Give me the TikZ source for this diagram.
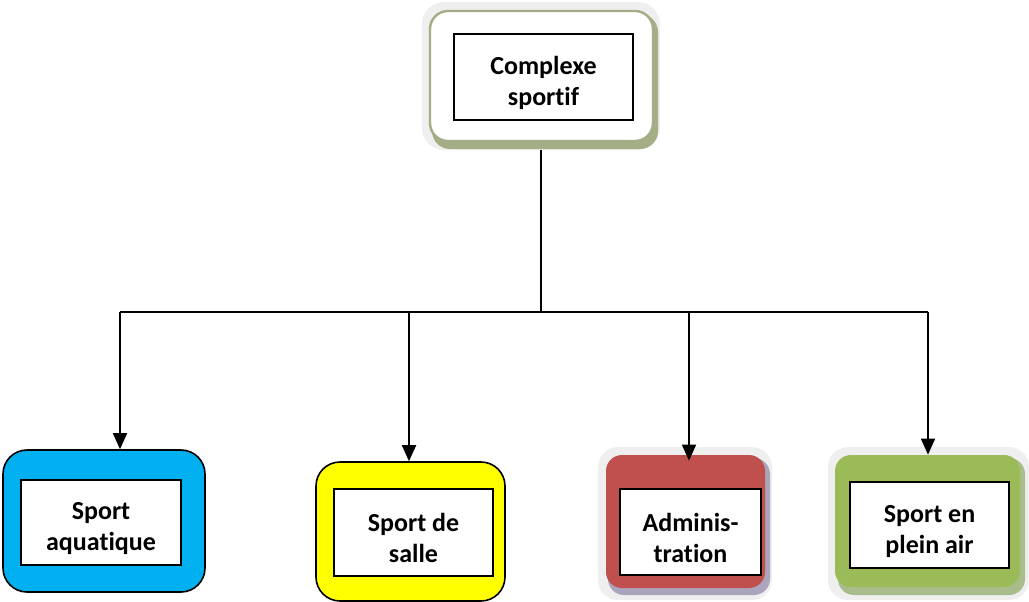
\documentclass[tikz,border=0pt]{standalone}
\usepackage{fontspec}
\setmainfont{Carlito}[Ligatures=NoCommon]
\usetikzlibrary{arrows.meta}
\definecolor{aquablue}{HTML}{00B0F0}
\definecolor{sallejaune}{HTML}{FFFF00}
\definecolor{adminrouge}{HTML}{C0504D}
\definecolor{pleinvert}{HTML}{9BBB59}
\definecolor{cadregris}{HTML}{EFEFEF}
\definecolor{ombreolive}{HTML}{A3AD86}
\definecolor{ombremauve}{HTML}{ABA4BD}
\definecolor{ombrevert}{HTML}{A9BC8C}
\newcommand{\hautligne}{\rule{0pt}{15pt}}
\tikzset{
  txtbox/.style={draw=black, line width=1pt, fill=white, align=center,
    font=\fontsize{13}{15.5}\selectfont\bfseries, inner sep=0pt},
  colbox/.style={draw=black, line width=0.8pt, rounded corners=12pt, inner sep=0pt},
  flatbox/.style={rounded corners=8pt, inner sep=0pt},
  link/.style={line width=0.9pt},
  arr/.style={link, -{Triangle[width=7pt,length=8pt]}}
}
\begin{document}
\begin{tikzpicture}[x=0.5pt,y=-0.5pt]
\useasboundingbox (0,0) rectangle (1029,601);

\node[flatbox, fill=cadregris, rounded corners=11pt, minimum width=119pt, minimum height=74pt] (complexe) at (541,76) {};
\fill[ombreolive, rounded corners=9pt] (432,14) rectangle (658,149);
\draw[ombreolive, fill=white, line width=1.2pt, rounded corners=9pt] (430,11) rectangle (653,141);
\node[txtbox, minimum width=89.5pt, minimum height=43pt] (complexeT) at (543.5,77) {\hautligne Complexe\\sportif};

\node[colbox, fill=aquablue, minimum width=101pt, minimum height=71pt] (aquatique) at (104,521) {};
\node[txtbox, minimum width=80pt, minimum height=42.5pt] (aquatiqueT) at (101,522.5) {\hautligne Sport\\aquatique};

\node[colbox, fill=sallejaune, minimum width=94.5pt, minimum height=69.5pt] (salle) at (410.5,531.5) {};
\node[txtbox, minimum width=79.5pt, minimum height=43.5pt] (salleT) at (413.5,532.5) {\hautligne Sport de\\salle};

\fill[cadregris, rounded corners=10pt] (598,447) rectangle (772,600);
\fill[ombremauve, rounded corners=8pt] (608,458) rectangle (770,595);
\node[flatbox, fill=adminrouge, minimum width=79.5pt, minimum height=66.5pt] (admin) at (685.5,521.5) {};
\node[txtbox, minimum width=70.5pt, minimum height=43pt] (adminT) at (690.5,532) {\hautligne Adminis-\\tration};

\fill[cadregris, rounded corners=10pt] (828,447) rectangle (1029,600);
\fill[ombrevert, rounded corners=8pt] (838,458) rectangle (1025,595);
\node[flatbox, fill=pleinvert, minimum width=92.5pt, minimum height=66pt] (pleinair) at (927.5,521) {};
\node[txtbox, minimum width=79.5pt, minimum height=43pt] (pleinairT) at (929.5,525) {\hautligne Sport en\\plein air};

\coordinate (hub) at (541,312);
\coordinate (b1) at (120,312);
\coordinate (b2) at (409,312);
\coordinate (b3) at (689,312);
\coordinate (b4) at (928,312);

\draw[link] (complexe.south) -- (hub);
\draw[link] (b1) -- (b4);
\draw[arr] (b1) -- (aquatique.north -| b1);
\draw[arr] (b2) -- (salle.north -| b2);
\draw[arr] (b3) -- ([yshift=-3pt]admin.north -| b3);
\draw[arr] (b4) -- (pleinair.north -| b4);
\end{tikzpicture}
\end{document}
